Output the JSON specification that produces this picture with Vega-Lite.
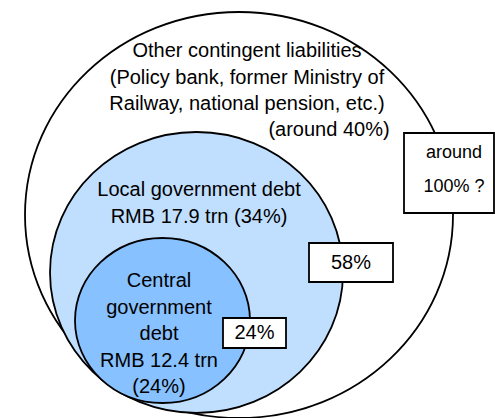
{
  "$schema": "https://vega.github.io/schema/vega-lite/v6.json",
  "width": 495,
  "height": 418,
  "autosize": "none",
  "padding": 0,
  "background": "white",
  "config": {"view": {"stroke": null}},
  "datasets": {
    "ellipses": [
      {"name": "Total", "cx": 239, "cy": 215},
      {"name": "Local", "cx": 196.5, "cy": 272.5},
      {"name": "Central", "cx": 162.5, "cy": 320.5}
    ],
    "boxes": [
      {"name": "around", "x1": 404, "x2": 494, "y1": 133, "y2": 213},
      {"name": "58", "x1": 309, "x2": 393, "y1": 243, "y2": 282},
      {"name": "24", "x1": 223, "x2": 286, "y1": 318, "y2": 348}
    ],
    "labels": [
      {"label": "Other contingent liabilities\n(Policy bank, former Ministry of\nRailway, national pension, etc.)", "tx": 247, "ty": 51},
      {"label": "(around 40%)", "tx": 329, "ty": 130},
      {"label": "Local government debt\nRMB 17.9 trn (34%)", "tx": 199, "ty": 190},
      {"label": "Central\ngovernment\ndebt\nRMB 12.4 trn\n(24%)", "tx": 159, "ty": 281},
      {"label": "58%", "tx": 351, "ty": 263},
      {"label": "24%", "tx": 254.5, "ty": 333}
    ],
    "boxlabels": [
      {"label": "around\n100% ?", "tx": 454, "ty": 153}
    ]
  },
  "layer": [
    {
      "data": {"name": "ellipses"},
      "transform": [{"filter": "datum.name === 'Total'"}],
      "mark": {"type": "point", "filled": true, "fill": "white", "stroke": "black", "strokeWidth": 1.8, "opacity": 1,
        "size": 183184,
        "shape": "M1,0C1,0.5239,0.5523,0.9486,0,0.9486C-0.5523,0.9486,-1,0.5239,-1,0C-1,-0.5239,-0.5523,-0.9486,0,-0.9486C0.5523,-0.9486,1,-0.5239,1,0Z"},
      "encoding": {
        "x": {"field": "cx", "type": "quantitative", "scale": {"domain": [0, 495], "nice": false, "zero": false}, "axis": null},
        "y": {"field": "cy", "type": "quantitative", "scale": {"domain": [0, 418], "nice": false, "zero": false, "reverse": true}, "axis": null}
      }
    },
    {
      "data": {"name": "ellipses"},
      "transform": [{"filter": "datum.name === 'Local'"}],
      "mark": {"type": "point", "filled": true, "fill": "#C0DFFF", "stroke": "black", "strokeWidth": 1.8, "opacity": 1,
        "size": 85849,
        "shape": "M1,0C1,0.5297,0.5523,0.959,0,0.959C-0.5523,0.959,-1,0.5297,-1,0C-1,-0.5297,-0.5523,-0.959,0,-0.959C0.5523,-0.959,1,-0.5297,1,0Z"},
      "encoding": {
        "x": {"field": "cx", "type": "quantitative", "scale": {"domain": [0, 495], "nice": false, "zero": false}, "axis": null},
        "y": {"field": "cy", "type": "quantitative", "scale": {"domain": [0, 418], "nice": false, "zero": false, "reverse": true}, "axis": null}
      }
    },
    {
      "data": {"name": "ellipses"},
      "transform": [{"filter": "datum.name === 'Central'"}],
      "mark": {"type": "point", "filled": true, "fill": "#88C1FF", "stroke": "black", "strokeWidth": 1.8, "opacity": 1,
        "size": 30625,
        "shape": "M1,0C1,0.5208,0.5523,0.943,0,0.943C-0.5523,0.943,-1,0.5208,-1,0C-1,-0.5208,-0.5523,-0.943,0,-0.943C0.5523,-0.943,1,-0.5208,1,0Z"},
      "encoding": {
        "x": {"field": "cx", "type": "quantitative", "scale": {"domain": [0, 495], "nice": false, "zero": false}, "axis": null},
        "y": {"field": "cy", "type": "quantitative", "scale": {"domain": [0, 418], "nice": false, "zero": false, "reverse": true}, "axis": null}
      }
    },
    {
      "data": {"name": "boxes"},
      "mark": {"type": "rect", "fill": "white", "stroke": "black", "strokeWidth": 1.8},
      "encoding": {
        "x": {"field": "x1", "type": "quantitative", "scale": {"domain": [0, 495], "nice": false, "zero": false}, "axis": null},
        "x2": {"field": "x2"},
        "y": {"field": "y1", "type": "quantitative", "scale": {"domain": [0, 418], "nice": false, "zero": false, "reverse": true}, "axis": null},
        "y2": {"field": "y2"}
      }
    },
    {
      "data": {"name": "labels"},
      "mark": {"type": "text", "font": "Liberation Sans", "fontSize": 20, "lineBreak": "\n", "lineHeight": 26.5, "align": "center", "baseline": "middle", "color": "black"},
      "encoding": {
        "x": {"field": "tx", "type": "quantitative", "scale": {"domain": [0, 495], "nice": false, "zero": false}, "axis": null},
        "y": {"field": "ty", "type": "quantitative", "scale": {"domain": [0, 418], "nice": false, "zero": false, "reverse": true}, "axis": null},
        "text": {"field": "label"}
      }
    },
    {
      "data": {"name": "boxlabels"},
      "mark": {"type": "text", "font": "Liberation Sans", "fontSize": 18, "lineBreak": "\n", "lineHeight": 34, "align": "center", "baseline": "middle", "color": "black", "letterSpacing": 1},
      "encoding": {
        "x": {"field": "tx", "type": "quantitative", "scale": {"domain": [0, 495], "nice": false, "zero": false}, "axis": null},
        "y": {"field": "ty", "type": "quantitative", "scale": {"domain": [0, 418], "nice": false, "zero": false, "reverse": true}, "axis": null},
        "text": {"field": "label"}
      }
    }
  ]
}
